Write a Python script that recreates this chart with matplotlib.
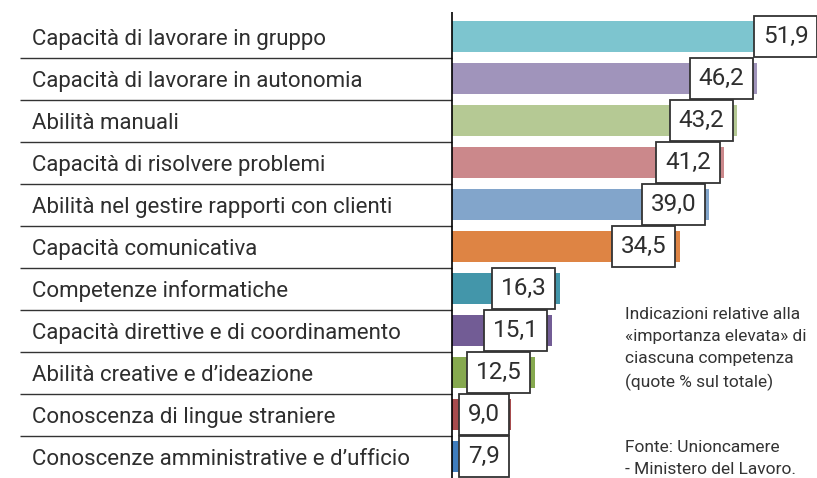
import matplotlib
matplotlib.use('Agg')
import matplotlib.pyplot as plt

# valori (quote %) delle competenze, dall'alto verso il basso
categorie = [
    'Capacità di lavorare in gruppo',
    'Capacità di lavorare in autonomia',
    'Abilità manuali',
    'Capacità di risolvere problemi',
    'Abilità nel gestire rapporti con clienti',
    'Capacità comunicativa',
    'Competenze informatiche',
    'Capacità direttive e di coordinamento',
    'Abilità creative e d\u2019ideazione',
    'Conoscenza di lingue straniere',
    'Conoscenze amministrative e d\u2019ufficio',
]
valori = [51.9, 46.2, 43.2, 41.2, 39.0, 34.5, 16.3, 15.1, 12.5, 9.0, 7.9]
colori = ['#7DC5CF', '#A094BB', '#B5C994', '#CB888B', '#82A5CB', '#DE8444',
          '#4396AA', '#725C95', '#86A94F', '#A74C4E', '#3F7DBD']

nota = 'Indicazioni relative alla\n\u00abimportanza elevata\u00bb di\nciascuna competenza\n(quote % sul totale)'
fonte = 'Fonte: Unioncamere\n- Ministero del Lavoro.'

plt.rcParams['font.family'] = ['Roboto', 'DejaVu Sans']

fig = plt.figure(figsize=(8.17, 4.78), dpi=100)
ax = fig.add_axes([0, 0, 1, 1])

px = 6.6  # pixel per unità
ax.set_xlim(-452 / px, 365 / px)
ax.set_ylim((478 - 36.5) / 42, -36.5 / 42)
ax.axis('off')

y = list(range(len(valori)))
ax.barh(y, valori, height=0.74, color=colori, zorder=2)

# asse verticale
ax.vlines(0, -0.58, 11, color='k', lw=1.2, zorder=3)

# linee di separazione tra le righe
for i in range(len(categorie) - 1):
    ax.hlines(i + 0.5, -432 / px, 0, color='#333333', lw=1.0)

for i, (c, v) in enumerate(zip(categorie, valori)):
    ax.text(-420 / px, i + 0.06, c, fontsize=16, color='#2e2e2e',
            va='center', ha='left')
    etichetta = '{:.1f}'.format(v).replace('.', ',')
    box = dict(boxstyle='square,pad=0.36', fc='white', ec='#333333', lw=1.3)
    if v == max(valori):
        ax.annotate(etichetta, (v, i), xytext=(14, 0), textcoords='offset pixels',
                    ha='right', va='center', fontsize=17.5, color='#2e2e2e',
                    bbox=box, zorder=4)
    elif v * px < 64:
        ax.annotate(etichetta, (0, i), xytext=(16, 0), textcoords='offset pixels',
                    ha='left', va='center', fontsize=17.5, color='#2e2e2e',
                    bbox=box, zorder=4)
    else:
        ax.annotate(etichetta, (v, i), xytext=(-13, 0), textcoords='offset pixels',
                    ha='right', va='center', fontsize=17.5, color='#2e2e2e',
                    bbox=box, zorder=4)

ax.text(625 / 817, 1 - 307 / 478, nota, transform=ax.transAxes, fontsize=12.5,
        color='#333333', va='top', ha='left', linespacing=1.58)
ax.text(625 / 817, 1 - 440 / 478, fonte, transform=ax.transAxes, fontsize=12.5,
        color='#333333', va='top', ha='left', linespacing=1.58)

plt.savefig('out.png', dpi=100)
